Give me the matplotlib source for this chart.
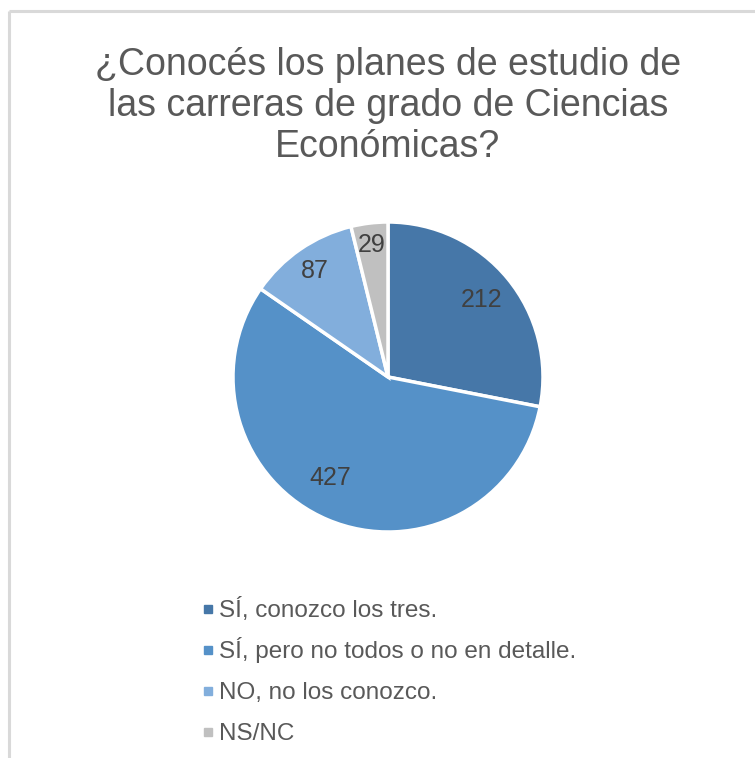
import matplotlib
matplotlib.use("Agg")
import matplotlib.pyplot as plt
from matplotlib.lines import Line2D
import numpy as np

title = "¿Conocés los planes de estudio de\nlas carreras de grado de Ciencias\nEconómicas?"
categories = ["SÍ, conozco los tres.", "SÍ, pero no todos o no en detalle.",
              "NO, no los conozco.", "NS/NC"]
values = [212, 427, 87, 29]
colors = ["#4677A8", "#5591C8", "#82AEDC", "#C0C0C0"]
label_dist = [0.78, 0.75, 0.83, 0.86]
label_turn = [0, -7, 0, 0]

plt.rcParams['font.family'] = ['Liberation Sans', 'DejaVu Sans']

W, H = 755, 758
fig = plt.figure(figsize=(W / 100, H / 100), dpi=100)

# chart area border (top and left visible)
fig.add_artist(Line2D([9 / W, 1.05], [1 - 11 / H, 1 - 11 / H], color="#D9D9D9", lw=2.2,
                      solid_capstyle="butt"))
fig.add_artist(Line2D([9 / W, 9 / W], [-0.05, 1 - 11 / H], color="#D9D9D9", lw=2.2,
                      solid_capstyle="butt"))

fig.text(388 / W, 1 - 47 / H, title, ha="center", va="top", fontsize=27,
         color="#595959", linespacing=1.18)

cx, cy, r = 388, 377, 155
ax = fig.add_axes([(cx - r) / W, 1 - (cy + r) / H, 2 * r / W, 2 * r / H])
wedges, _ = ax.pie(values, colors=colors, startangle=90, counterclock=False,
                   wedgeprops=dict(edgecolor="white", linewidth=2.5))
ax.set_xlim(-1, 1)
ax.set_ylim(-1, 1)
ax.set_aspect("equal")
ax.axis("off")
for w, v, d, t in zip(wedges, values, label_dist, label_turn):
    ang = np.deg2rad((w.theta1 + w.theta2) / 2 + t)
    ax.text(d * np.cos(ang), d * np.sin(ang), str(v), ha="center", va="center",
            fontsize=18, color="#404040")

# legend entries (manual layout, evenly spaced rows)
base0, step = 617, 41
for i, (lab, c) in enumerate(zip(categories, colors)):
    yb = base0 + i * step
    fig.add_artist(Line2D([208 / W], [1 - (yb - 8.5) / H], marker="s", linestyle="none",
                          markersize=5.5, markerfacecolor=c, markeredgecolor=c))
    fig.text(219 / W, 1 - yb / H, lab, ha="left", va="baseline", fontsize=17.5,
             color="#595959")

fig.savefig("out.png", dpi=100, facecolor="white")
